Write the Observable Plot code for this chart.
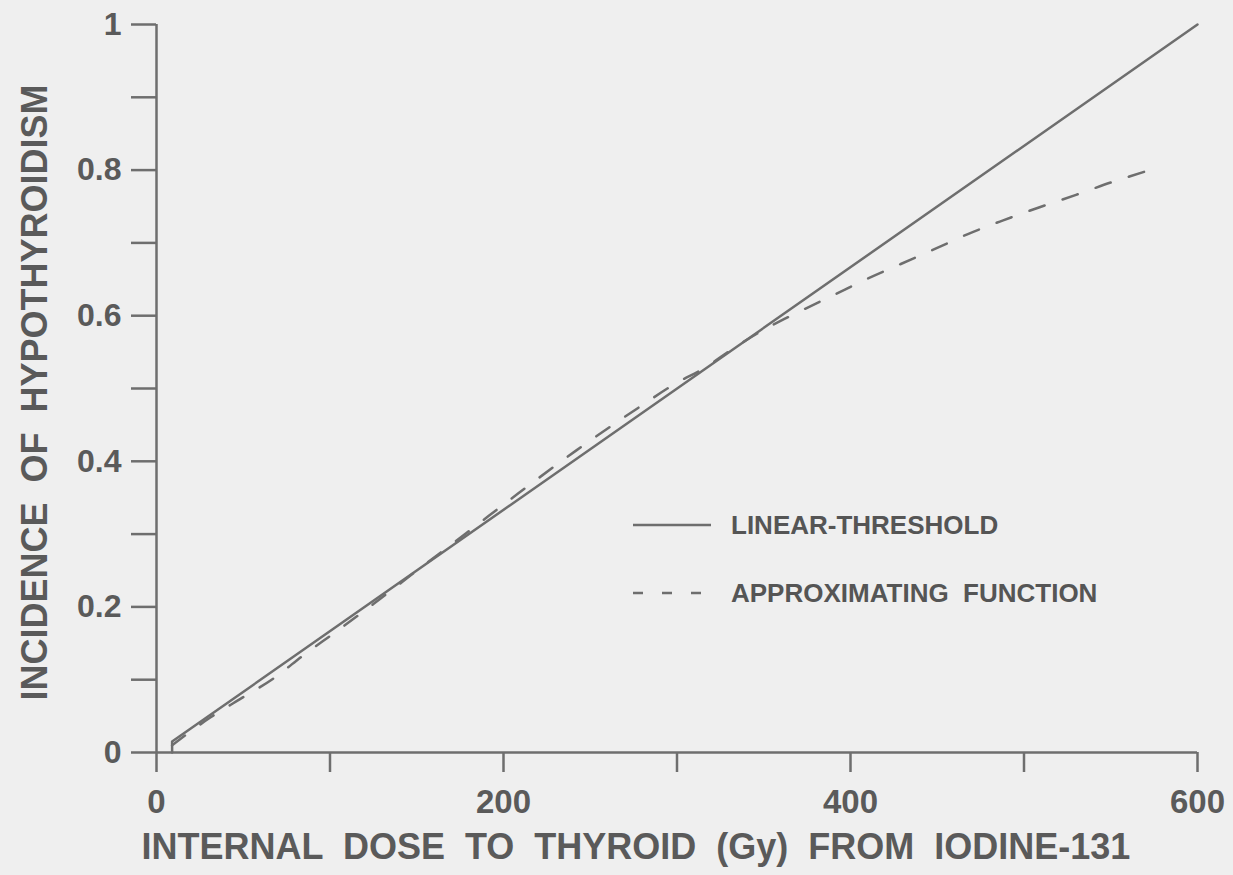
<!DOCTYPE html>
<html>
<head>
<meta charset="utf-8">
<script src="https://cdn.jsdelivr.net/npm/d3@7"></script>
<script src="https://cdn.jsdelivr.net/npm/@observablehq/plot@0.6"></script>
<style>
  html, body { margin: 0; padding: 0; background: #efefef; }
  #chart { position: relative; width: 1233px; height: 875px; }
  #legend { position: absolute; left: 633px; top: 500px; font-family: "Liberation Sans", Arial, sans-serif; font-weight: bold; color: #555; font-size: 26px; }
  #legend .row { display: flex; align-items: center; height: 50px; }
  #legend .row + .row { margin-top: 18px; }
  #legend svg { margin-right: 20px; }
</style>
</head>
<body>
<div id="chart"></div>
<script>
// Linear-threshold model (dose in Gy, incidence)
const linearDose = [9, 9, 600];
const linearIncidence = [0, 0.015, 1.0];

// Approximating function
const approxDose = [9, 31, 50, 67, 86, 103, 125, 154, 180, 208, 242, 278, 300, 315, 333, 351, 370, 390, 409, 429, 449, 468, 488, 509, 530, 550, 571, 576];
const approxIncidence = [0.010, 0.048, 0.076, 0.101, 0.136, 0.165, 0.204, 0.257, 0.304, 0.355, 0.415, 0.474, 0.508, 0.527, 0.556, 0.582, 0.605, 0.628, 0.650, 0.671, 0.692, 0.7125, 0.731, 0.749, 0.766, 0.783, 0.799, 0.803];

// Axis ticks and labels
const xTicks = [0, 100, 200, 300, 400, 500, 600];
const xTickLabels = ["0", "", "200", "", "400", "", "600"];
const yTicks = [0, 0.1, 0.2, 0.3, 0.4, 0.5, 0.6, 0.7, 0.8, 0.9, 1.0];
const yTickLabels = ["0", "", "0.2", "", "0.4", "", "0.6", "", "0.8", "", "1"];

const xTitle = "INTERNAL  DOSE  TO  THYROID  (Gy)  FROM  IODINE-131";
const yTitle = "INCIDENCE  OF  HYPOTHYROIDISM";
const seriesNames = ["LINEAR-THRESHOLD", "APPROXIMATING  FUNCTION"];

const linear = linearDose.map((d, i) => ({dose: d, inc: linearIncidence[i]}));
const approx = approxDose.map((d, i) => ({dose: d, inc: approxIncidence[i]}));

const ink = "#5a5a5a";
const lineInk = "#6e6e6e";

const chart = Plot.plot({
  width: 1233,
  height: 875,
  marginLeft: 156,
  marginRight: 36,
  marginTop: 24,
  marginBottom: 123,
  style: {background: "#efefef", color: ink, fontFamily: "'Liberation Sans', Arial, sans-serif", fontWeight: "bold", overflow: "visible"},
  x: {domain: [0, 600]},
  y: {domain: [0, 1]},
  marks: [
    Plot.ruleY([0], {x1: 0, x2: 600, stroke: lineInk, strokeWidth: 2.5}),
    Plot.ruleX([0], {y1: 0, y2: 1, stroke: lineInk, strokeWidth: 2.5}),
    Plot.axisX({ticks: xTicks, tickSize: 20, tickPadding: 17, tickFormat: d => xTickLabels[xTicks.indexOf(d)], fontSize: 33, strokeWidth: 2.5, stroke: lineInk, fill: ink, label: null}),
    Plot.axisY({ticks: yTicks, tickSize: 25, tickPadding: 10, tickFormat: d => yTickLabels[yTicks.findIndex(t => Math.abs(t - d) < 1e-9)], fontSize: 32, strokeWidth: 2.5, stroke: lineInk, fill: ink, label: null}),
    Plot.line(linear, {x: "dose", y: "inc", stroke: lineInk, strokeWidth: 2.5}),
    Plot.line(approx, {x: "dose", y: "inc", stroke: lineInk, strokeWidth: 2.5, strokeDasharray: "16,19", curve: "monotone-x"}),
    Plot.text([xTitle], {frameAnchor: "bottom", dy: 106, dx: -41, fontSize: 36, fill: ink}),
    Plot.text([yTitle], {frameAnchor: "left", textAnchor: "middle", dx: -121, dy: 4, rotate: -90, fontSize: 36, fill: ink})
  ]
});

const root = document.getElementById("chart");
root.appendChild(chart);

// Legend overlay
const legend = document.createElement("div");
legend.id = "legend";
const dashes = ["none", "10,19"];
seriesNames.forEach((name, i) => {
  const row = document.createElement("div");
  row.className = "row";
  const svg = d3.create("svg").attr("width", 78).attr("height", 10);
  svg.append("line").attr("x1", 0).attr("x2", 78).attr("y1", 5).attr("y2", 5)
    .attr("stroke", lineInk).attr("stroke-width", 2.5).attr("stroke-dasharray", dashes[i]);
  row.appendChild(svg.node());
  const span = document.createElement("span");
  span.textContent = name;
  span.style.whiteSpace = "pre";
  row.appendChild(span);
  legend.appendChild(row);
});
root.appendChild(legend);
</script>
</body>
</html>
